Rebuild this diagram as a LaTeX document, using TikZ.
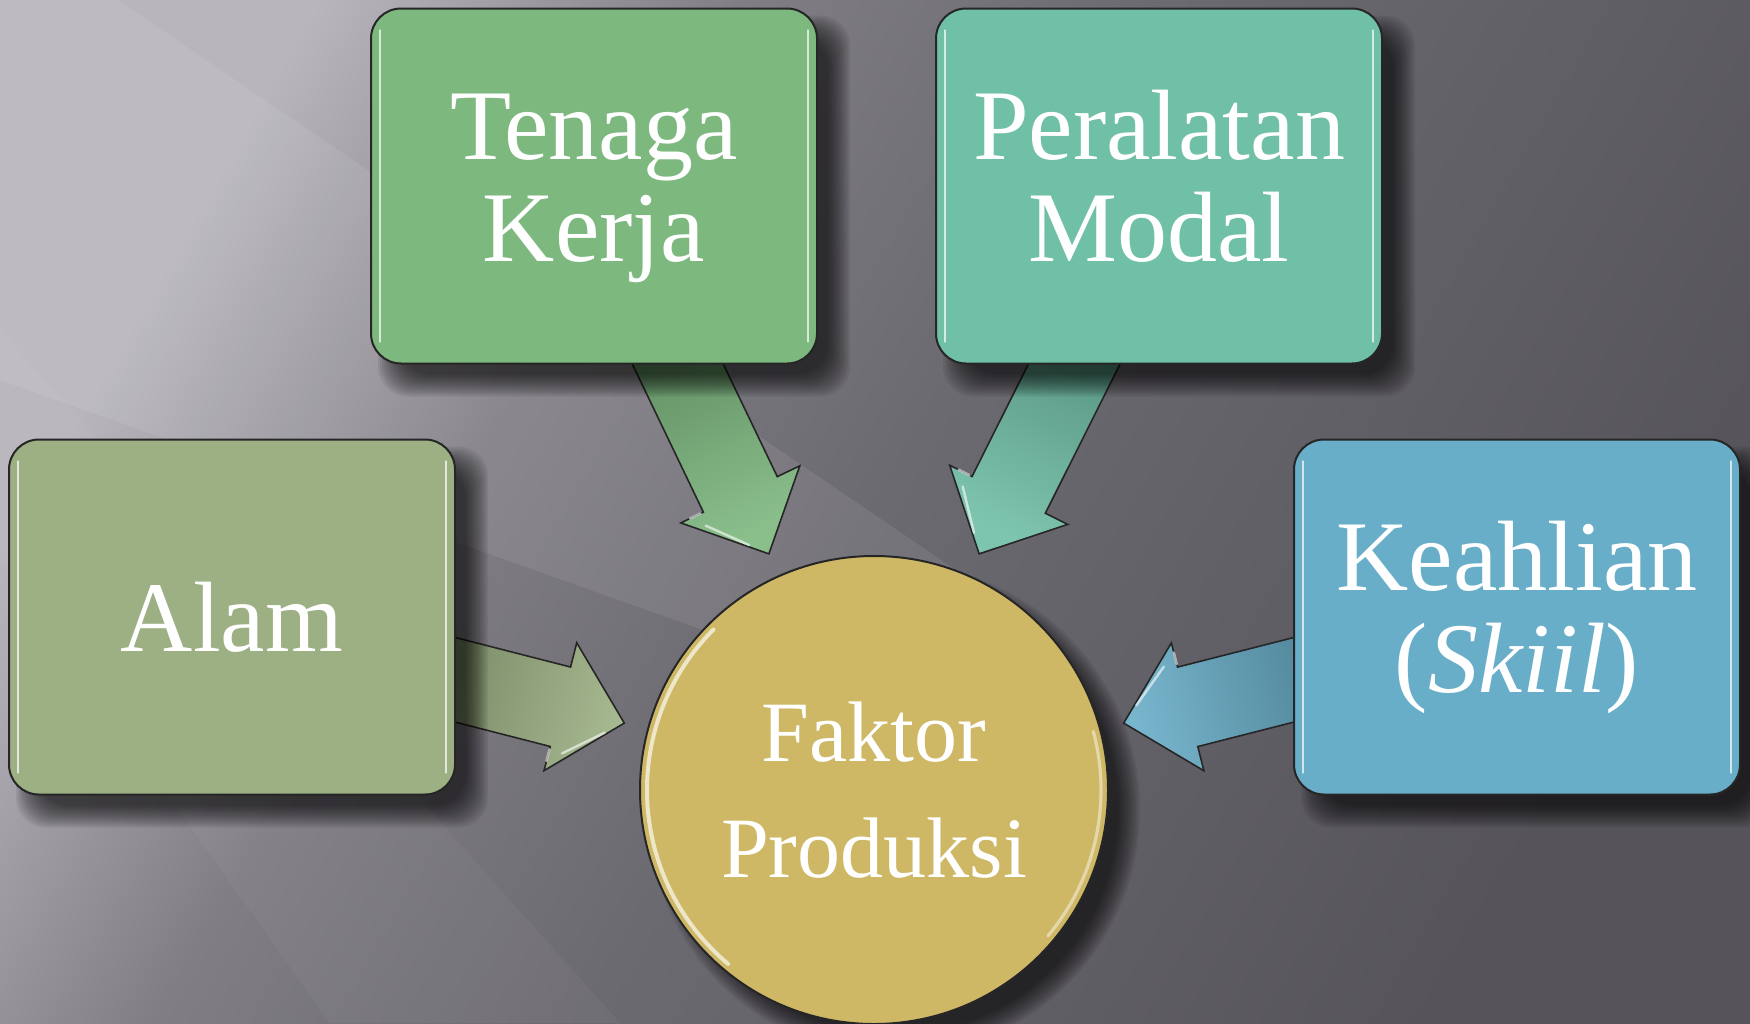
\documentclass[tikz,border=0pt]{standalone}
\usepackage{fontspec}
\setmainfont{Liberation Serif}
\usetikzlibrary{positioning,calc}

\definecolor{bgLight}{HTML}{B8B5BD}
\definecolor{bgA}{HTML}{807D84}
\definecolor{bgB}{HTML}{6C6A71}
\definecolor{bgC}{HTML}{615F66}
\definecolor{bgDark}{HTML}{56545A}
\definecolor{tenagaC}{HTML}{7DB87F}
\definecolor{peralatanC}{HTML}{70BFA7}
\definecolor{alamC}{HTML}{9CB083}
\definecolor{keahlianC}{HTML}{69AEC8}
\definecolor{faktorC}{HTML}{CEB866}

\pgfdeclarehorizontalshading{backdrop}{100bp}{color(0bp)=(bgLight); color(25bp)=(bgLight);
  color(37.5bp)=(bgA); color(50bp)=(bgB); color(62.5bp)=(bgC); color(75bp)=(bgDark);
  color(100bp)=(bgDark)}

\pgfdeclarelayer{back}
\pgfdeclarelayer{flow}
\pgfdeclarelayer{shadow}
\pgfsetlayers{back,flow,shadow,main}

\tikzset{
  factorbox/.style={draw=black!85, line width=1pt, rounded corners=15pt,
    minimum width=223pt, minimum height=177.5pt, text=white, align=center,
    font=\fontsize{50pt}{51pt}\selectfont,
    path picture={
      \draw[white, opacity=.7, line width=1.4pt, line cap=round]
        ($(path picture bounding box.north west)+(4.5pt,-11pt)$) --
        ($(path picture bounding box.south west)+(4.5pt,11pt)$)
        ($(path picture bounding box.north east)+(-4.5pt,-11pt)$) --
        ($(path picture bounding box.south east)+(-4.5pt,11pt)$);}},
  resultcircle/.style={circle, draw=black!85, line width=1pt, fill=faktorC,
    minimum size=234pt, inner sep=0pt, text=white, align=center,
    font=\fontsize{43pt}{58pt}\selectfont,
    path picture={
      \draw[white, opacity=.65, line width=2pt, line cap=round]
        ($(path picture bounding box.center)+(135:113.5pt)$)
          arc[start angle=135, end angle=230, radius=113.5pt];
      \draw[white, opacity=.45, line width=1.6pt, line cap=round]
        ($(path picture bounding box.center)+(-40:113.5pt)$)
          arc[start angle=-40, end angle=15, radius=113.5pt];}},
  flowarrow/.style={draw=black!85, line width=.8pt, line join=miter},
  softshadow/.style={fill=black, opacity=.07}
}

\begin{document}
\begin{tikzpicture}[x=0.5pt, y=-0.5pt]
  \useasboundingbox (0,0) rectangle (1750,1023);

  % backdrop
  \begin{pgfonlayer}{back}
    \shade[shading=backdrop, shading angle=-30] (0,0) rectangle (1750,1023);
    \fill[white, opacity=.08] (0,-80) -- (1000,600) -- (900,700) -- (0,380) -- cycle;
    \fill[white, opacity=.035] (0,560) -- (330,1023) -- (620,1023) -- (0,330) -- cycle;
  \end{pgfonlayer}

  % boxes
  \node[factorbox, fill=tenagaC] (tenaga) at (594,186) {Tenaga\vphantom{l}\\Kerja};
  \node[factorbox, fill=peralatanC, right=58.5pt of tenaga] (peralatan) {Peralatan\vphantom{g}\\Modal\vphantom{j}};
  \node[factorbox, fill=alamC] (alam) at (232,617) {Alam};
  \node[factorbox, fill=keahlianC] (keahlian) at (1517,617) {Keahlian\\(\textit{Skiil})};
  \node[resultcircle] (faktor) at (874,790) {Faktor\\Produksi};

  % shadows
  \begin{pgfonlayer}{shadow}
    \foreach \nm in {tenaga,peralatan,alam,keahlian}
      \foreach \k in {0,...,11}
        \fill[softshadow, rounded corners=15pt]
          ($(\nm.south west)+(4pt+\k pt,-16pt+\k pt)$) rectangle
          ($(\nm.north east)+(16pt-\k pt,-4pt-\k pt)$);
    \foreach \k in {0,...,11}
      \fill[softshadow] ($(faktor.center)+(10pt,-10pt)$) circle[radius=123pt-\k pt];
  \end{pgfonlayer}

  \path
  ($(tenaga.south)+(84,0)$) coordinate (tenaga-out)
  ($(peralatan.south)+(-85,0)$) coordinate (peralatan-out)
  ($(alam.east)+(0,63)$) coordinate (alam-out)
  ($(keahlian.west)+(0,63)$) coordinate (keahlian-out);

  % block arrows into the circle
  \begin{pgfonlayer}{flow}
    \foreach \nm/\ang/\col/\sa in {tenaga/114/tenagaC/25, peralatan/66/peralatanC/-25,
                                    alam/165/alamC/76, keahlian/15/keahlianC/-76} {
      \path ($(faktor.center)!1.1!(faktor.\ang)$) coordinate (t)
            ($(t)!1.25!(\nm-out)$) coordinate (s)
            ($(t)!33pt!(s)$) coordinate (n);
      \shade[flowarrow, top color=\col!75!black, bottom color=\col!90!white, shading angle=\sa]
        ($(s)!20.5pt!90:(t)$) -- ($(n)!20.5pt!90:(t)$) -- ($(n)!33pt!90:(t)$) -- (t)
        -- ($(n)!33pt!-90:(t)$) -- ($(n)!20.5pt!-90:(t)$) -- ($(s)!20.5pt!-90:(t)$) -- cycle;
      \draw[white, opacity=.6, line width=1.2pt, line cap=round]
        ($(n)!28pt!-90:(t)$) -- ($(n)!22pt!-90:(t)$)
        ($($(n)!28pt!-90:(t)$)!.2!(t)$) -- ($($(n)!28pt!-90:(t)$)!.75!(t)$);
    }
  \end{pgfonlayer}
\end{tikzpicture}
\end{document}
